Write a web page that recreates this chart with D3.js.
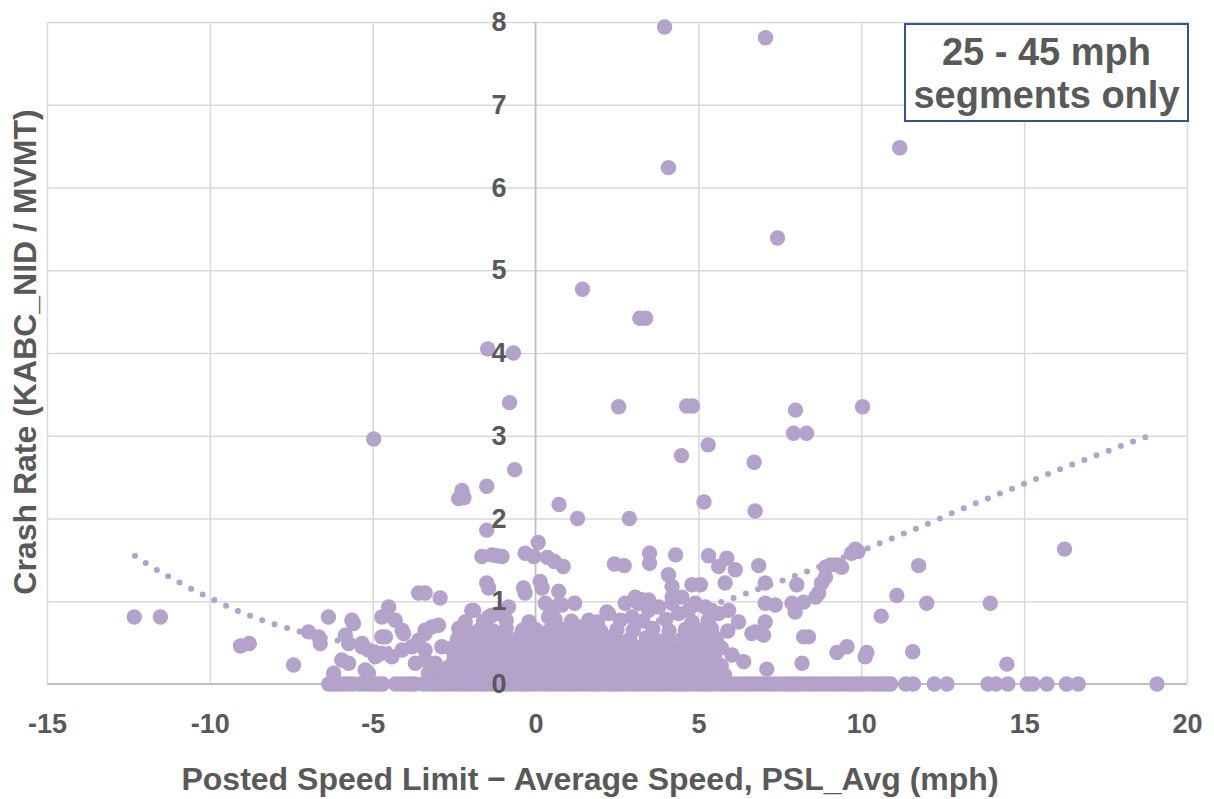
<!DOCTYPE html>
<html>
<head>
<meta charset="utf-8">
<script src="https://cdn.jsdelivr.net/npm/d3@7/dist/d3.min.js"></script>
<style>
  html, body { margin: 0; padding: 0; background: #ffffff; }
  svg { display: block; }
  text { font-family: "Liberation Sans", Arial, sans-serif; font-weight: bold; fill: #595959; }
</style>
</head>
<body>
<svg id="chart" width="1214" height="799"></svg>
<script>
// ---------------- DATA ----------------
const xTickValues = [-15, -10, -5, 0, 5, 10, 15, 20];
const yTickValues = [0, 1, 2, 3, 4, 5, 6, 7, 8];
const xAxisTitle = "Posted Speed Limit \u2212 Average Speed, PSL_Avg (mph)";
const yAxisTitle = "Crash Rate (KABC_NID / MVMT)";
const boxLines = ["25 - 45 mph", "segments only"];

// segments with a crash rate of zero (x = PSL_Avg)
const zeroRatePsl = [
  -6.35, -6.2, -6.05, -5.9, -5.75, -5.6, -5.4, -5.25, -5.1, -4.95, -4.8, -4.7,
  -4.3, -4.15, -4.0, -3.85, -3.7,
  -3.45, -3.3, -3.15, -3.0, -2.85, -2.7, -2.55, -2.4, -2.25, -2.1, -1.95, -1.8, -1.65,
  -1.5, -1.35, -1.2, -1.05, -0.9, -0.75, -0.6, -0.45, -0.3, -0.15, 0.0, 0.15, 0.3, 0.45,
  0.6, 0.75, 0.9, 1.05, 1.2, 1.35, 1.5, 1.65, 1.8, 1.95, 2.1, 2.25, 2.4, 2.55, 2.7, 2.85,
  3.0, 3.15, 3.3, 3.45, 3.6, 3.75, 3.9, 4.05, 4.2, 4.35, 4.5, 4.65, 4.8, 4.95, 5.1, 5.25,
  5.4, 5.55, 5.7, 5.85, 6.0, 6.15, 6.3, 6.45, 6.6, 6.75, 6.9, 7.05, 7.2, 7.35, 7.5, 7.65,
  7.8, 7.95, 8.1, 8.25, 8.4, 8.55, 8.7, 8.85, 9.0, 9.15, 9.3, 9.45, 9.6, 9.75, 9.9, 10.05,
  10.2, 10.35, 10.5, 10.65, 10.8, 10.9,
  11.36, 11.6, 12.24, 12.63, 13.89, 14.13, 14.5, 15.1, 15.27, 15.7, 16.3, 16.66, 19.08
];

// higher crash rate segments [PSL_Avg, crash rate]
const higherRateSegments = [
  [3.96, 7.94], [7.06, 7.81], [4.08, 6.24], [11.18, 6.48], [7.43, 5.39], [1.44, 4.77],
  [3.2, 4.42], [3.38, 4.42], [-1.47, 4.05], [-0.68, 4.0], [-0.8, 3.4], [2.55, 3.35],
  [4.64, 3.36], [4.82, 3.36], [7.98, 3.31], [10.04, 3.35], [7.92, 3.03], [8.32, 3.03],
  [-4.97, 2.96], [4.48, 2.76], [5.3, 2.89], [6.71, 2.68], [-0.64, 2.59], [-1.5, 2.39],
  [-2.26, 2.34], [-2.36, 2.24], [-2.2, 2.25], [0.72, 2.17], [1.29, 2.0], [2.88, 2.0],
  [5.17, 2.2], [6.74, 2.09], [-1.5, 1.86], [0.08, 1.71], [16.24, 1.63],
  [-1.65, 1.54], [-1.34, 1.56], [-1.03, 1.54], [-1.2, 1.55], [-0.32, 1.58], [-0.05, 1.54],
  [0.36, 1.53], [0.58, 1.48], [0.85, 1.42], [2.42, 1.45], [2.72, 1.43], [3.5, 1.46],
  [3.5, 1.58], [4.3, 1.56], [5.31, 1.55], [5.87, 1.52], [5.62, 1.42], [6.13, 1.38],
  [5.82, 1.22], [6.85, 1.43], [7.05, 1.22], [4.08, 1.32], [4.19, 1.18], [4.19, 1.05],
  [4.8, 1.2], [5.06, 1.2], [8.02, 1.2], [7.05, 0.975], [7.36, 0.955], [7.87, 0.975],
  [7.97, 0.87], [8.23, 0.99], [9.82, 1.63], [9.7, 1.58], [9.9, 1.6], [9.24, 1.44],
  [9.4, 1.41], [9.06, 1.44], [8.9, 1.41], [8.9, 1.29], [8.78, 1.22], [8.69, 1.1],
  [8.6, 1.05], [11.76, 1.43], [11.09, 1.07], [12.01, 0.975], [13.96, 0.975], [10.61, 0.82],
  [8.38, 0.57], [9.25, 0.38], [9.56, 0.45], [10.17, 0.38], [10.12, 0.33], [11.58, 0.39],
  [14.47, 0.24], [-1.5, 1.22], [-1.44, 1.16], [-0.37, 1.16], [-0.32, 1.1], [0.14, 1.24],
  [0.2, 1.16], [0.71, 1.12], [-0.83, 0.93], [0.3, 0.975], [0.71, 0.955], [1.2, 0.975],
  [-1.9, 0.89], [-1.34, 0.83], [0.4, 0.81], [2.24, 0.85], [2.75, 0.975],
  [-3.59, 1.1], [-3.39, 1.1], [-2.93, 1.04], [-4.51, 0.93], [-4.72, 0.81], [-4.31, 0.77],
  [-6.36, 0.81], [-5.64, 0.77], [-5.59, 0.73], [-6.97, 0.63], [-6.61, 0.49], [-6.66, 0.57],
  [-7.43, 0.23], [-12.32, 0.81], [-11.52, 0.81], [-9.06, 0.46], [-8.79, 0.49],
  [3.06, 1.05], [3.26, 1.02], [3.16, 0.975], [3.47, 1.015], [3.78, 0.93], [2.96, 0.81],
  [3.47, 0.89], [4.39, 0.85], [4.19, 0.975], [4.49, 1.05], [4.7, 0.89], [4.9, 0.975],
  [5.21, 0.93], [5.41, 0.89], [5.62, 0.85], [5.93, 0.89], [6.23, 0.75], [7.05, 0.75],
  [6.64, 0.61], [7.0, 0.59], [6.74, 0.63], [8.23, 0.57], [6.03, 0.35], [6.39, 0.27],
  [7.1, 0.18], [8.18, 0.25], [4.44, 0.17], [5.31, 0.27], [5.52, 0.25], [4.49, 0.37]
];

// low crash rate segments (the dense cluster) [PSL_Avg, crash rate]
const lowRateSegments = [
  [-5.84, 0.59], [-5.74, 0.49], [-5.33, 0.45], [-5.13, 0.41], [-4.61, 0.57], [-4.05, 0.61],
  [-3.18, 0.69], [-3.39, 0.61], [-3.59, 0.53], [-3.8, 0.45], [-4.1, 0.41], [-4.72, 0.37],
  [-4.41, 0.33], [-4.92, 0.33], [-3.39, 0.41], [-2.88, 0.45], [-5.95, 0.29], [-5.74, 0.25],
  [-6.2, 0.13], [-5.13, 0.13], [-5.23, 0.17], [-3.69, 0.25], [-3.39, 0.29], [-3.08, 0.25],
  [-2.98, 0.17], [-3.29, 0.13], [-3.39, 0.65], [-2.98, 0.71], [-4.1, 0.65], [-4.72, 0.57],
  [-5.33, 0.49], [-2.16, 0.75], [-2.36, 0.67], [-1.96, 0.89], [-1.13, 0.85], [-1.44, 0.81],
  [0.5, 0.89], [0.81, 0.955], [2.19, 0.87], [1.63, 0.77], [1.32, 0.69], [1.01, 0.65],
  [-2.8, 0.1], [-2.5, 0.12], [-2.2, 0.09], [-1.9, 0.11], [-1.6, 0.1], [-1.3, 0.12], [-1.0, 0.09],
  [-0.7, 0.11], [-0.4, 0.1], [-0.1, 0.12], [0.2, 0.09], [0.5, 0.11], [0.8, 0.1], [1.1, 0.12],
  [1.4, 0.09], [1.7, 0.11], [2.0, 0.1], [2.3, 0.12], [2.6, 0.09], [3.0, 0.11], [3.3, 0.1],
  [3.6, 0.12], [4.0, 0.09], [4.3, 0.11], [4.7, 0.1], [5.0, 0.12], [5.4, 0.09], [5.8, 0.11],
  [-2.65, 0.21], [-2.35, 0.22], [-2.05, 0.2], [-1.75, 0.21], [-1.45, 0.23], [-1.15, 0.2],
  [-0.85, 0.22], [-0.55, 0.21], [-0.25, 0.2], [0.05, 0.22], [0.35, 0.21], [0.65, 0.23],
  [0.95, 0.2], [1.25, 0.22], [1.55, 0.21], [1.85, 0.2], [2.15, 0.22], [2.45, 0.21],
  [2.75, 0.23], [3.1, 0.2], [3.4, 0.22], [3.75, 0.21], [4.1, 0.2], [4.55, 0.22], [4.9, 0.21],
  [5.25, 0.2], [5.7, 0.22],
  [-2.5, 0.32], [-2.2, 0.33], [-1.9, 0.31], [-1.6, 0.32], [-1.3, 0.34], [-1.0, 0.31],
  [-0.7, 0.33], [-0.4, 0.32], [-0.1, 0.31], [0.2, 0.33], [0.5, 0.32], [0.8, 0.34], [1.1, 0.31],
  [1.4, 0.33], [1.7, 0.32], [2.0, 0.31], [2.3, 0.33], [2.6, 0.32], [2.95, 0.34], [3.3, 0.31],
  [3.7, 0.33], [4.0, 0.32], [4.35, 0.3], [4.8, 0.33], [5.15, 0.32], [5.5, 0.34],
  [-2.6, 0.43], [-2.3, 0.44], [-2.0, 0.42], [-1.7, 0.43], [-1.4, 0.45], [-1.1, 0.42],
  [-0.8, 0.44], [-0.5, 0.43], [-0.2, 0.42], [0.1, 0.44], [0.4, 0.43], [0.7, 0.45], [1.0, 0.42],
  [1.3, 0.44], [1.6, 0.43], [1.9, 0.42], [2.2, 0.44], [2.5, 0.43], [2.8, 0.41], [3.2, 0.44],
  [3.6, 0.43], [3.9, 0.45], [4.3, 0.42], [4.6, 0.44], [5.0, 0.43], [5.35, 0.41], [5.7, 0.44],
  [-2.4, 0.54], [-2.05, 0.55], [-1.75, 0.53], [-1.45, 0.54], [-1.15, 0.56], [-0.85, 0.53],
  [-0.55, 0.55], [-0.25, 0.54], [0.05, 0.53], [0.35, 0.55], [0.65, 0.54], [0.95, 0.56],
  [1.25, 0.53], [1.55, 0.55], [1.85, 0.54], [2.15, 0.53], [2.5, 0.55], [2.9, 0.54],
  [3.4, 0.56], [3.7, 0.53], [4.05, 0.55], [4.5, 0.54], [4.85, 0.56], [5.2, 0.53], [5.55, 0.55],
  [-2.1, 0.65], [-1.7, 0.66], [-1.3, 0.64], [-0.9, 0.67], [-0.4, 0.65], [0.0, 0.66],
  [0.4, 0.64], [0.8, 0.66], [1.2, 0.65], [1.6, 0.67], [2.0, 0.64], [2.5, 0.66], [3.0, 0.65],
  [3.6, 0.67], [4.1, 0.64], [4.6, 0.66], [5.0, 0.65], [5.4, 0.67], [5.9, 0.64],
  [-1.6, 0.76], [-0.9, 0.77], [-0.2, 0.75], [0.6, 0.78], [1.1, 0.76], [1.9, 0.75],
  [2.6, 0.77], [3.3, 0.76], [4.0, 0.78], [4.8, 0.75], [5.3, 0.77]
];

// polynomial trendline [PSL_Avg, crash rate]
const trendX = [-12.3, -12, -11, -10, -9, -8, -7, -6, -5, -4, -3, -2, -1, 0, 1, 2, 3, 4, 5,
  6, 7, 8, 9, 10, 11, 12, 13, 14, 15, 16, 17, 18, 18.85];
const trendY = [1.55, 1.47, 1.24, 1.04, 0.86, 0.72, 0.61, 0.52, 0.45, 0.41, 0.40, 0.40, 0.43,
  0.47, 0.53, 0.60, 0.69, 0.79, 0.91, 1.03, 1.17, 1.31, 1.46, 1.61, 1.77, 1.93, 2.10, 2.26,
  2.42, 2.58, 2.73, 2.88, 3.0];

// ---------------- CHART ----------------
const pointColor = "#b3a2c9";
const svg = d3.select("#chart");
const plot = { left: 47, right: 1187, top: 22, bottom: 684 };
const hyphenFormat = d => String(d).replace("\u2212", "-");

const x = d3.scaleLinear().domain([-15, 20]).range([plot.left, plot.right]);
const y = d3.scaleLinear().domain([0, 8]).range([plot.bottom, plot.top]);

// horizontal gridlines
const gy = svg.append("g")
  .attr("transform", `translate(${plot.left},0)`)
  .call(d3.axisLeft(y).tickValues(yTickValues.filter(v => v > 0))
    .tickSize(-(plot.right - plot.left)).tickFormat(""));
gy.select(".domain").remove();
gy.selectAll(".tick line").attr("stroke", "#d9d9d9").attr("stroke-width", 1.5);

// vertical gridlines
const gx = svg.append("g")
  .attr("transform", `translate(0,${plot.bottom})`)
  .call(d3.axisBottom(x).tickValues(xTickValues.filter(v => v !== 0))
    .tickSize(-(plot.bottom - plot.top)).tickFormat(""));
gx.select(".domain").remove();
gx.selectAll(".tick line").attr("stroke", "#d9d9d9").attr("stroke-width", 1.5);

// axis lines (y = 0 and x = 0)
svg.append("line")
  .attr("x1", x(-15)).attr("x2", x(20)).attr("y1", y(0)).attr("y2", y(0))
  .attr("stroke", "#bfbfbf").attr("stroke-width", 1.8);
svg.append("line")
  .attr("x1", x(0)).attr("x2", x(0)).attr("y1", y(0)).attr("y2", y(8))
  .attr("stroke", "#bfbfbf").attr("stroke-width", 1.8);

// points
const allPoints = zeroRatePsl.map(v => [v, 0]).concat(lowRateSegments, higherRateSegments);
svg.append("g").selectAll("circle")
  .data(allPoints)
  .join("circle")
  .attr("cx", d => x(d[0]))
  .attr("cy", d => y(d[1]))
  .attr("r", 7.7)
  .attr("fill", pointColor);

// dotted trendline
const trendData = trendX.map((v, i) => [v, trendY[i]]);
svg.append("path")
  .datum(trendData)
  .attr("d", d3.line().x(d => x(d[0])).y(d => y(d[1])).curve(d3.curveMonotoneX))
  .attr("fill", "none")
  .attr("stroke", pointColor)
  .attr("stroke-width", 6)
  .attr("stroke-linecap", "round")
  .attr("stroke-dasharray", "0 13");

// x tick labels
const xAxisG = svg.append("g")
  .attr("transform", `translate(0,${plot.bottom})`)
  .call(d3.axisBottom(x).tickValues(xTickValues).tickSize(0).tickPadding(30)
    .tickFormat(hyphenFormat));
xAxisG.select(".domain").remove();
xAxisG.selectAll("text")
  .style("font-size", "27px").style("font-family", "'Liberation Sans', Arial, sans-serif")
  .style("font-weight", "bold").attr("fill", "#595959");

// y tick labels (at x = 0)
const yAxisG = svg.append("g")
  .attr("transform", `translate(${x(0)},0)`)
  .call(d3.axisLeft(y).tickValues(yTickValues).tickSize(0).tickPadding(29)
    .tickFormat(hyphenFormat));
yAxisG.select(".domain").remove();
yAxisG.selectAll("text")
  .style("font-size", "27px").style("font-family", "'Liberation Sans', Arial, sans-serif")
  .style("font-weight", "bold").attr("fill", "#595959");

// axis titles
svg.append("text")
  .attr("x", 590).attr("y", 790)
  .attr("text-anchor", "middle")
  .style("font-size", "32px")
  .text(xAxisTitle);

svg.append("text")
  .attr("transform", "translate(36,352) rotate(-90)")
  .attr("text-anchor", "middle")
  .style("font-size", "32px")
  .text(yAxisTitle);

// annotation box
svg.append("rect")
  .attr("x", 905).attr("y", 24).attr("width", 283).attr("height", 97)
  .attr("fill", "#ffffff").attr("stroke", "#2f5597").attr("stroke-width", 2);
svg.append("text")
  .attr("x", 1046.5).attr("y", 65)
  .attr("text-anchor", "middle").style("font-size", "38px")
  .text(boxLines[0]);
svg.append("text")
  .attr("x", 1046.5).attr("y", 108)
  .attr("text-anchor", "middle").style("font-size", "38px")
  .text(boxLines[1]);
</script>
</body>
</html>
